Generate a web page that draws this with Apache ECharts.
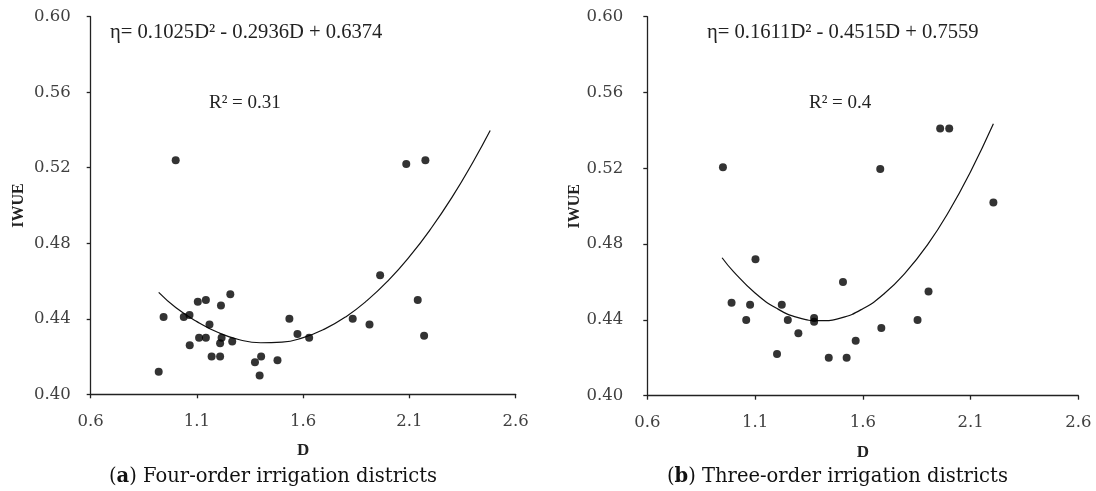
<!DOCTYPE html>
<html>
<head>
<meta charset="utf-8">
<script src="https://cdn.jsdelivr.net/npm/echarts@6/dist/echarts.min.js"></script>
<style>
html,body{margin:0;padding:0;background:#fff;}
#chart{width:1096px;height:491px;}
</style>
</head>
<body>
<div id="chart"></div>
<script>
// ---- data ----
// (a) Four-order irrigation districts
const fourD = [1.00, 2.085, 2.175, 0.92, 0.943, 1.038, 1.065, 1.066, 1.104, 1.110, 1.142, 1.142, 1.159, 1.169, 1.209, 1.209, 1.216, 1.213, 1.257, 1.266, 1.373, 1.402, 1.395, 1.479, 1.535, 1.573, 1.628, 1.833, 1.912, 1.962, 2.139, 2.169];
const fourIWUE = [0.524, 0.522, 0.524, 0.412, 0.441, 0.441, 0.442, 0.426, 0.449, 0.430, 0.450, 0.430, 0.437, 0.420, 0.420, 0.427, 0.430, 0.447, 0.453, 0.428, 0.417, 0.420, 0.410, 0.418, 0.440, 0.432, 0.430, 0.440, 0.437, 0.463, 0.450, 0.431];
// fitted curve
const fourTrendD = [0.92, 1.0, 1.1, 1.2, 1.3, 1.4, 1.5, 1.6, 1.7, 1.8, 1.9, 2.0, 2.1, 2.2, 2.3, 2.4, 2.48];
const fourTrendEta = [0.454, 0.446, 0.4385, 0.4327, 0.4289, 0.4273, 0.4276, 0.430, 0.4345, 0.441, 0.4496, 0.4602, 0.4729, 0.4876, 0.5043, 0.5232, 0.5397];

// (b) Three-order irrigation districts
const threeD = [0.951, 1.681, 1.959, 2.001, 2.206, 0.991, 1.059, 1.077, 1.102, 1.202, 1.224, 1.252, 1.301, 1.374, 1.374, 1.442, 1.508, 1.525, 1.567, 1.686, 1.854, 1.905];
const threeIWUE = [0.5205, 0.5196, 0.541, 0.541, 0.502, 0.449, 0.440, 0.448, 0.472, 0.422, 0.448, 0.440, 0.433, 0.441, 0.439, 0.420, 0.460, 0.420, 0.429, 0.4357, 0.440, 0.455];
const threeTrendD = [0.947, 1.0, 1.1, 1.2, 1.3, 1.4, 1.5, 1.6, 1.7, 1.8, 1.9, 2.0, 2.1, 2.206];
const threeTrendEta = [0.4728, 0.4655, 0.4542, 0.4461, 0.4412, 0.4396, 0.4411, 0.4459, 0.4539, 0.4652, 0.4796, 0.4973, 0.5182, 0.5435];

const equations = ['η= 0.1025D² - 0.2936D + 0.6374', 'η= 0.1611D² - 0.4515D + 0.7559'];
const rSquared = ['R² = 0.31', 'R² = 0.4'];
const captionLetters = ['a', 'b'];
const captionTexts = [' Four-order irrigation districts', ' Three-order irrigation districts'];
const xAxisName = 'D';
const yAxisName = 'IWUE';

// ---- chart ----
const pair = (xs, ys) => xs.map((x, i) => [x, ys[i]]);
const tickFont = 'DejaVu Serif';
const axisColor = '#222';
const labelColor = '#404040';

function xAxisCfg(gridIndex) {
  return {
    type: 'value', gridIndex: gridIndex,
    min: 0.6, max: 2.6, interval: 0.5,
    name: xAxisName, nameLocation: 'middle', nameGap: 48,
    nameTextStyle: {fontFamily: 'Liberation Serif', fontWeight: 'bold', fontSize: 17, color: '#222'},
    axisLine: {show: true, onZero: false, lineStyle: {color: axisColor, width: 1.3}},
    axisTick: {show: true, inside: false, length: 4, lineStyle: {color: axisColor, width: 1.3}},
    axisLabel: {margin: 19, fontFamily: tickFont, fontSize: 16.5, color: labelColor,
      formatter: v => v.toFixed(1)},
    splitLine: {show: false}
  };
}
function yAxisCfg(gridIndex, labelMargin, nameGap) {
  return {
    type: 'value', gridIndex: gridIndex,
    min: 0.40, max: 0.60, interval: 0.04,
    name: yAxisName, nameLocation: 'middle', nameGap: nameGap, nameRotate: 90,
    nameTextStyle: {fontFamily: 'Liberation Serif', fontWeight: 'bold', fontSize: 16, color: '#222'},
    axisLine: {show: true, onZero: false, lineStyle: {color: axisColor, width: 1.3}},
    axisTick: {show: true, inside: false, length: 4, lineStyle: {color: axisColor, width: 1.3}},
    axisLabel: {margin: labelMargin, fontFamily: tickFont, fontSize: 16.5, color: labelColor,
      formatter: v => v.toFixed(2)},
    splitLine: {show: false}
  };
}

const eqFont = '20.6px "Liberation Serif"';
const rFont = '19px "Liberation Serif"';
const capFont = '19.5px "DejaVu Serif"';

const option = {
  backgroundColor: '#ffffff',
  animation: false,
  grid: [
    {left: 90.7, top: 16.7, width: 425, height: 377.6},
    {left: 647.3, top: 16.7, width: 431, height: 379}
  ],
  xAxis: [xAxisCfg(0), xAxisCfg(1)],
  yAxis: [yAxisCfg(0, 20, 64), yAxisCfg(1, 24, 57)],
  series: [
    {type: 'line', xAxisIndex: 0, yAxisIndex: 0, data: pair(fourTrendD, fourTrendEta),
      smooth: true, showSymbol: false, lineStyle: {color: '#111', width: 1.2}, z: 2},
    {type: 'scatter', xAxisIndex: 0, yAxisIndex: 0, data: pair(fourD, fourIWUE),
      symbolSize: 8, itemStyle: {color: '#000'}, z: 3},
    {type: 'line', xAxisIndex: 1, yAxisIndex: 1, data: pair(threeTrendD, threeTrendEta),
      smooth: true, showSymbol: false, lineStyle: {color: '#111', width: 1.2}, z: 2},
    {type: 'scatter', xAxisIndex: 1, yAxisIndex: 1, data: pair(threeD, threeIWUE),
      symbolSize: 8, itemStyle: {color: '#000'}, z: 3}
  ],
  graphic: [
    {type: 'text', x: 110, y: 33, style: {text: equations[0], font: eqFont, fill: '#222', align: 'left', verticalAlign: 'middle'}},
    {type: 'text', x: 209, y: 103, style: {text: rSquared[0], font: rFont, fill: '#222', align: 'left', verticalAlign: 'middle'}},
    {type: 'text', x: 707, y: 33, style: {text: equations[1], font: eqFont, fill: '#222', align: 'left', verticalAlign: 'middle'}},
    {type: 'text', x: 809, y: 103, style: {text: rSquared[1], font: rFont, fill: '#222', align: 'left', verticalAlign: 'middle'}},
    {type: 'text', x: 109, y: 477, style: {text: '({b|' + captionLetters[0] + '})' + captionTexts[0], font: capFont, fill: '#111',
      align: 'left', verticalAlign: 'middle', rich: {b: {font: 'bold 19.5px "DejaVu Serif"', fill: '#111'}}}},
    {type: 'text', x: 667, y: 477, style: {text: '({b|' + captionLetters[1] + '})' + captionTexts[1], font: capFont, fill: '#111',
      align: 'left', verticalAlign: 'middle', rich: {b: {font: 'bold 19.5px "DejaVu Serif"', fill: '#111'}}}}
  ]
};

const chart = echarts.init(document.getElementById('chart'), null, {renderer: 'canvas'});
chart.setOption(option);
</script>
</body>
</html>
